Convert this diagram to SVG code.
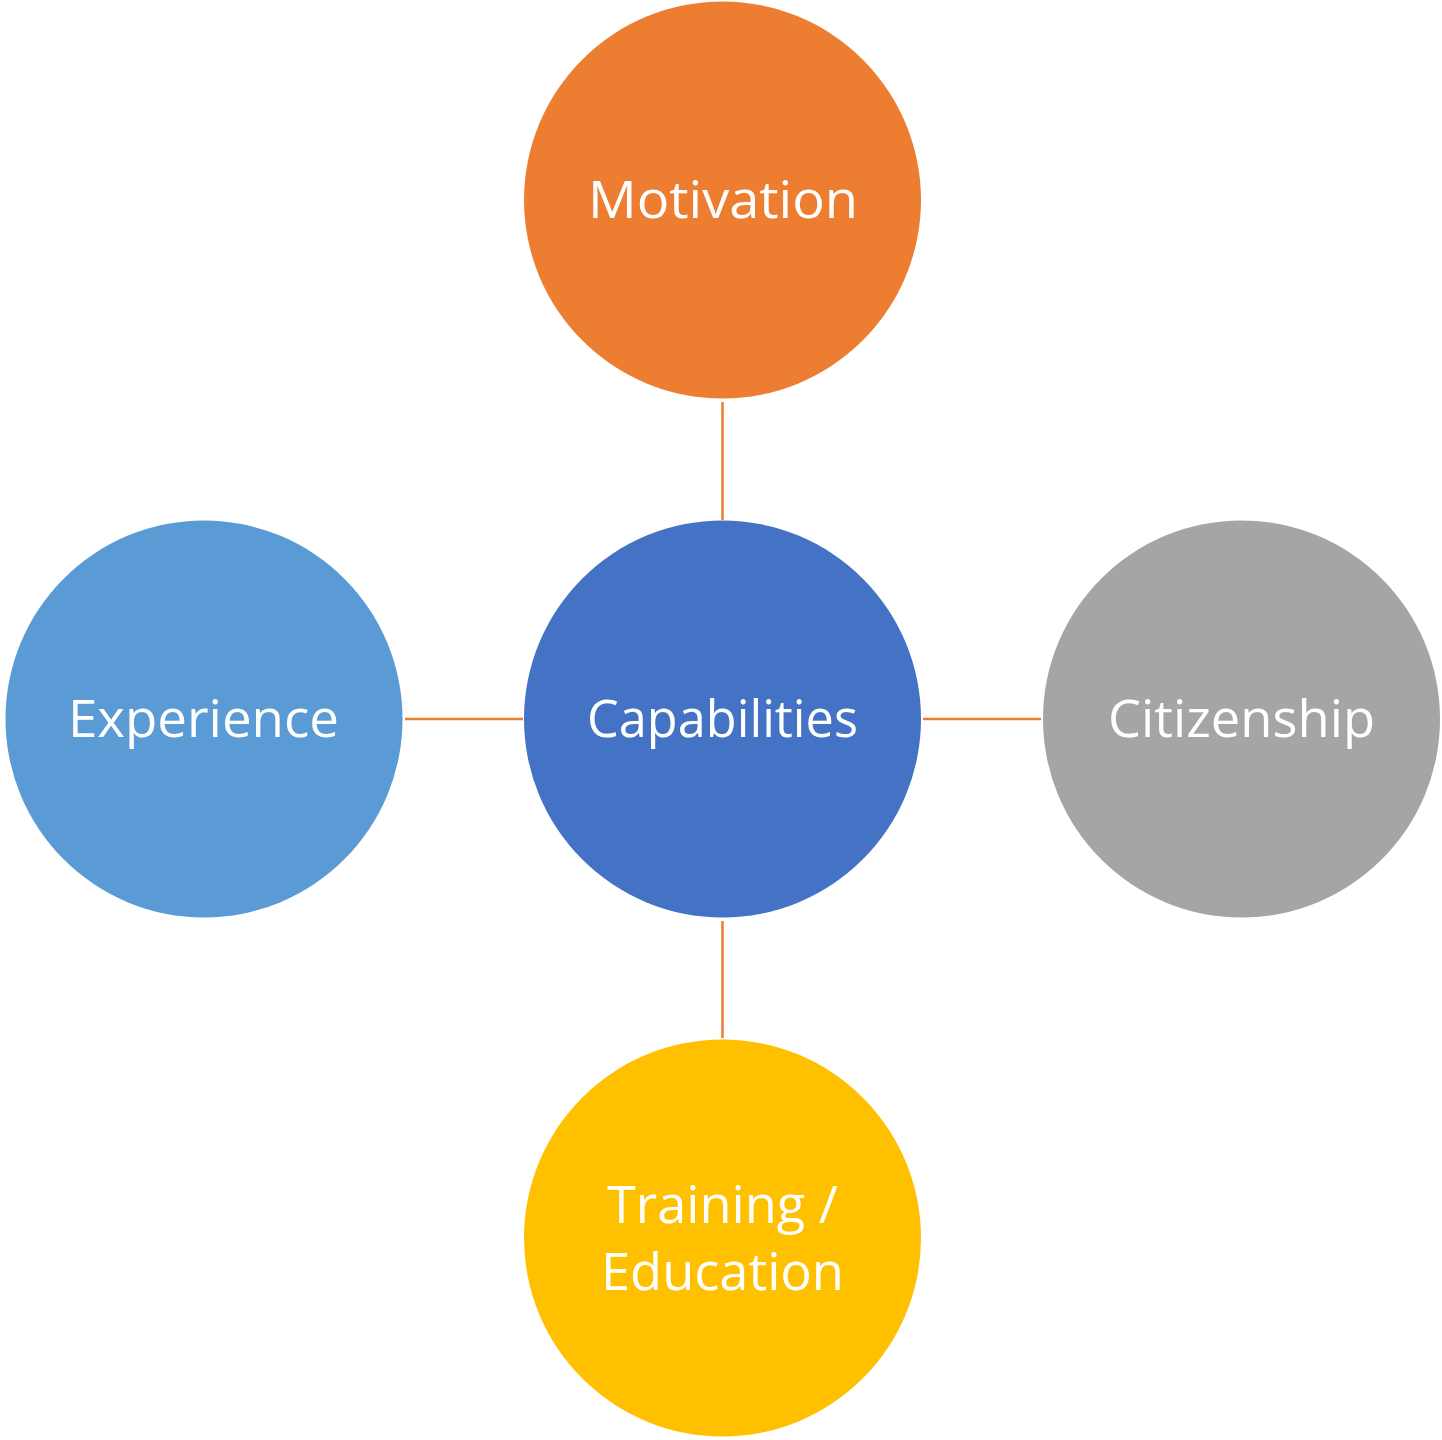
<svg xmlns="http://www.w3.org/2000/svg" width="1442" height="1440" viewBox="0 0 1442 1440">
<style>
.lbl{font-family:"Open Sans","Noto Sans",sans-serif;font-size:51px;fill:#fff;text-anchor:middle}
.conn line{stroke:#ED7D31;stroke-width:2.5}
</style>
<rect width="1442" height="1440" fill="#fff"/>
<g id="connectors" class="conn">
<line x1="722.5" y1="402" x2="722.5" y2="520"/>
<line x1="405" y1="719" x2="523" y2="719"/>
<line x1="923" y1="719" x2="1041" y2="719"/>
<line x1="722.5" y1="921" x2="722.5" y2="1038"/>
</g>
<g id="motivation">
<circle cx="722.5" cy="200" r="198.5" fill="#ED7D31"/>
<text class="lbl" x="723" y="218" textLength="270" lengthAdjust="spacingAndGlyphs">Motivation</text>
</g>
<g id="capabilities">
<circle cx="722.5" cy="719" r="198.5" fill="#4472C4"/>
<text class="lbl" x="722.5" y="737" textLength="271" lengthAdjust="spacingAndGlyphs">Capabilities</text>
</g>
<g id="experience">
<circle cx="204" cy="719" r="198.5" fill="#5B9BD5"/>
<text class="lbl" x="203.5" y="737" textLength="271" lengthAdjust="spacingAndGlyphs">Experience</text>
</g>
<g id="citizenship">
<circle cx="1241.5" cy="719" r="198.5" fill="#A5A5A5"/>
<text class="lbl" x="1241.5" y="737" textLength="267" lengthAdjust="spacingAndGlyphs">Citizenship</text>
</g>
<g id="training">
<circle cx="722.5" cy="1238" r="198.5" fill="#FFC000"/>
<text class="lbl" x="722.5" y="1223" textLength="231" lengthAdjust="spacingAndGlyphs">Training /</text>
<text class="lbl" x="722.5" y="1290" textLength="243" lengthAdjust="spacingAndGlyphs">Education</text>
</g>
</svg>
